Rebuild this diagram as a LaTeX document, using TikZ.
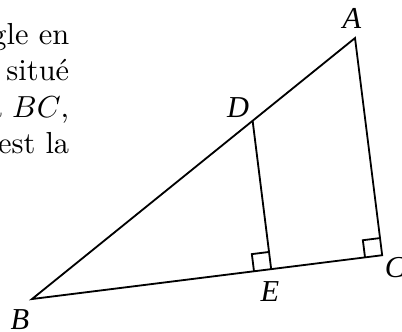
\documentclass[tikz,border=0pt]{standalone}
\usepackage{fontspec}
\newfontfamily\figfont{Liberation Serif}
\usetikzlibrary{calc}
\begin{document}
\begin{tikzpicture}[txt/.style={anchor=base east, inner sep=0pt}, lbl/.style={font=\figfont\itshape, inner sep=0pt}, line width=0.6pt]
    \useasboundingbox (0,0) rectangle (4.647,3.827);
    \node[txt] (t1) at (0.81,3.318) {gle en};
    \node[txt] (t2) at (0.81,2.902) {situé};
    \node[txt] (t3) at (0.81,2.474) {a $BC$,};
    \node[txt] (t4) at (0.81,2.058) {est la};
    \coordinate (B) at (0.370,0.370);
    \coordinate (A) at (4.104,3.387);
    \coordinate (C) at ($(B)!(A)!(4.439,0.879)$);
    \coordinate (D) at ($(B)!0.683!(A)$);
    \coordinate (E) at ($(B)!(D)!(C)$);
    \draw (B) -- (A) -- (C) -- cycle;
    \draw (D) -- (E);
    % right angles
    \coordinate (e1) at ($(E)!0.2cm!(B)$);
    \coordinate (e2) at ($(E)!0.2cm!(D)$);
    \draw (e1) -- ($(e1)+(e2)-(E)$) -- (e2);
    \coordinate (c1) at ($(C)!0.2cm!(B)$);
    \coordinate (c2) at ($(C)!0.2cm!(A)$);
    \draw (c1) -- ($(c1)+(c2)-(C)$) -- (c2);
    \node[lbl] (lA) at (4.069,3.618) {A};
    \node[lbl] (lD) at (2.751,2.578) {D};
    \node[lbl] (lE) at (3.121,0.451) {E};
    \node[lbl] (lC) at (4.566,0.728) {C};
    \node[lbl] (lB) at (0.231,0.127) {B};
\end{tikzpicture}
\end{document}
